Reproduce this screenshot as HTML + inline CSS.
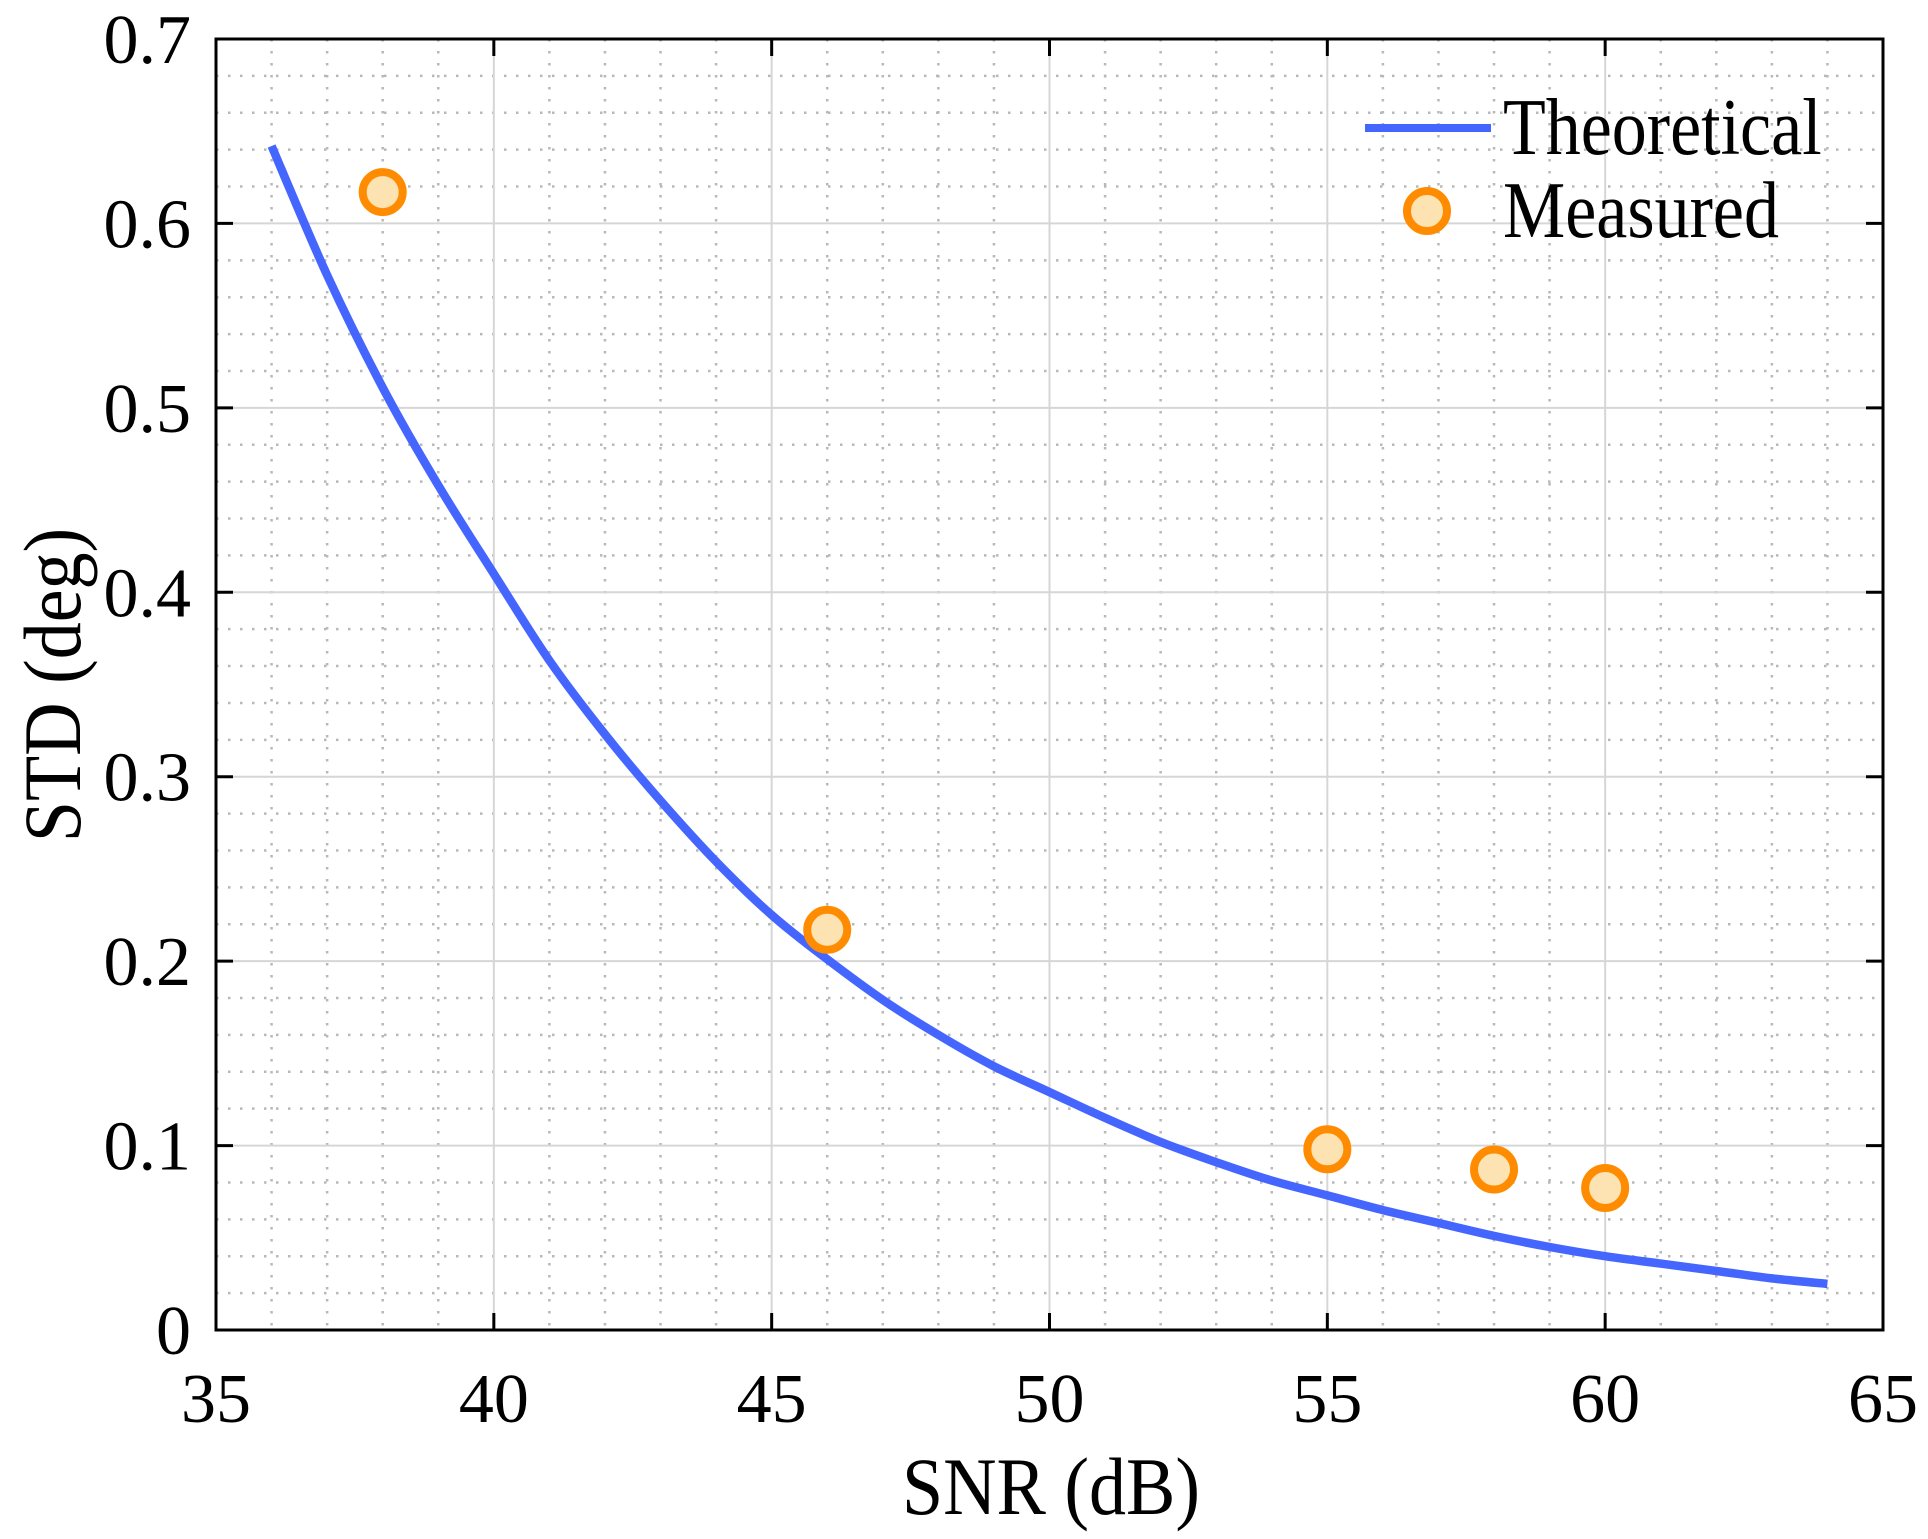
<!DOCTYPE html>
<html><head><meta charset="utf-8"><style>
html,body{margin:0;padding:0;background:#fff;}
svg{display:block;font-family:"Liberation Serif","Times New Roman",serif;}
</style></head><body>
<svg id="chart" width="1928" height="1539" viewBox="0 0 1928 1539" xmlns="http://www.w3.org/2000/svg">
<g id="grid"></g>
<g id="series"></g>
<rect x="216" y="39" width="1667" height="1291" fill="none" stroke="#000" stroke-width="3"/>
<g id="ticks"></g>
<text x="1051" y="1514" font-size="74" text-anchor="middle" transform="translate(1051,1514) scale(1,1.1) translate(-1051,-1514)">SNR (dB)</text>
<text transform="translate(80,685) rotate(-90) scale(1,1.1)" font-size="74" text-anchor="middle">STD (deg)</text>
<g>
<line x1="1365" y1="128" x2="1491" y2="128" stroke="#4466ff" stroke-width="8"/>
<text x="1503" y="154" font-size="70" transform="translate(1503,154) scale(1,1.15) translate(-1503,-154)">Theoretical</text>
<circle cx="1427" cy="211" r="20" fill="#fde3b2" stroke="#ff8c00" stroke-width="8"/>
<text x="1503" y="237" font-size="70" transform="translate(1503,237) scale(1,1.15) translate(-1503,-237)">Measured</text>
</g>
</svg>
<script>
const xTicks=[35,40,45,50,55,60,65];
const yTicks=[0,0.1,0.2,0.3,0.4,0.5,0.6,0.7];
const yTickLabels=["0","0.1","0.2","0.3","0.4","0.5","0.6","0.7"];
const theoSnr=[36,37,38,39,40,41,42,43,44,45,46,47,48,49,50,51,52,53,54,55,56,57,58,59,60,61,62,63,64];
const theoStd=[0.642,0.572,0.511,0.458,0.41,0.363,0.323,0.287,0.254,0.225,0.201,0.179,0.16,0.143,0.129,0.115,0.102,0.091,0.081,0.073,0.065,0.058,0.051,0.045,0.040,0.036,0.032,0.028,0.025];
const measSnr=[38,46,55,58,60];
const measStd=[0.617,0.217,0.098,0.087,0.077];
const X0=216,X1=1883,Y0=1330,Y1=39;
function sx(v){return X0+(v-35)/30*(X1-X0);}
function sy(v){return Y0-(v/0.7)*(Y0-Y1);}
const NS='http://www.w3.org/2000/svg';
function mk(tag,attrs,parent){const e=document.createElementNS(NS,tag);for(const k in attrs)e.setAttribute(k,attrs[k]);parent.appendChild(e);return e;}
const grid=document.getElementById('grid'),ticks=document.getElementById('ticks'),series=document.getElementById('series');
for(let v=36;v<65;v++){if(v%5===0)continue;const l=mk('line',{x1:sx(v),x2:sx(v),y1:Y1,y2:Y0,stroke:'#b8b8b8','stroke-width':2.5,'stroke-dasharray':'2.5 9.5'},grid);

}
for(let i=1;i<35;i++){if(i%5===0)continue;const v=i*0.02;const l=mk('line',{x1:X0,x2:X1,y1:sy(v),y2:sy(v),stroke:'#b8b8b8','stroke-width':2.5,'stroke-dasharray':'2.5 9.5'},grid);

}
xTicks.forEach(v=>{const l=mk('line',{x1:sx(v),x2:sx(v),y1:Y1,y2:Y0,stroke:'#d6d6d6','stroke-width':2},grid);


const t1=mk('line',{x1:sx(v),x2:sx(v),y1:Y0,y2:Y0-17,stroke:'#000','stroke-width':3},ticks);


const t2=mk('line',{x1:sx(v),x2:sx(v),y1:Y1,y2:Y1+17,stroke:'#000','stroke-width':3},ticks);


const tx=mk('text',{x:sx(v),y:1422,'font-size':70,'text-anchor':'middle'},ticks);tx.textContent=v;

});
yTicks.forEach((v,i)=>{const l=mk('line',{x1:X0,x2:X1,y1:sy(v),y2:sy(v),stroke:'#d6d6d6','stroke-width':2},grid);


const t1=mk('line',{x1:X0,x2:X0+17,y1:sy(v),y2:sy(v),stroke:'#000','stroke-width':3},ticks);


const t2=mk('line',{x1:X1,x2:X1-17,y1:sy(v),y2:sy(v),stroke:'#000','stroke-width':3},ticks);


const tx=mk('text',{x:191,y:sy(v)+24,'font-size':70,'text-anchor':'end'},ticks);tx.textContent=yTickLabels[i];

});
// smooth Catmull-Rom path through data
const P=theoSnr.map((s,i)=>[sx(s),sy(theoStd[i])]);
let d='M'+P[0][0].toFixed(1)+','+P[0][1].toFixed(1);
for(let i=0;i<P.length-1;i++){const p0=P[Math.max(0,i-1)],p1=P[i],p2=P[i+1],p3=P[Math.min(P.length-1,i+2)];
const c1=[p1[0]+(p2[0]-p0[0])/6,p1[1]+(p2[1]-p0[1])/6],c2=[p2[0]-(p3[0]-p1[0])/6,p2[1]-(p3[1]-p1[1])/6];
d+=' C'+c1[0].toFixed(1)+','+c1[1].toFixed(1)+' '+c2[0].toFixed(1)+','+c2[1].toFixed(1)+' '+p2[0].toFixed(1)+','+p2[1].toFixed(1);}
const pl=mk('path',{d:d,fill:'none',stroke:'#4466ff','stroke-width':8.5,'stroke-linejoin':'round'},series);


measSnr.forEach((s,i)=>{const c=mk('circle',{cx:sx(s),cy:sy(measStd[i]),r:20,fill:'#fde3b2',stroke:'#ff8c00','stroke-width':8},series);

});
</script>
</body></html>
